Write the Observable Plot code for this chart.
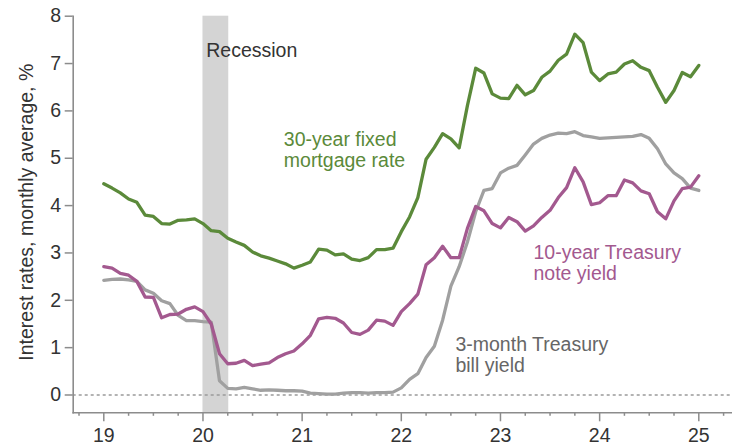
<!DOCTYPE html>
<html>
<head>
<meta charset="utf-8">
<script src="https://cdn.jsdelivr.net/npm/d3@7"></script>
<script src="https://cdn.jsdelivr.net/npm/@observablehq/plot@0.6"></script>
<style>
  html, body { margin: 0; padding: 0; background: #fff; }
</style>
</head>
<body>
<div id="chart"></div>
<script>
// Monthly averages, January 2019 through January 2025
const startYear = 2019;
const mortgage30 = [
  4.46, 4.37, 4.27, 4.14, 4.07, 3.80, 3.77, 3.62, 3.61, 3.69, 3.70, 3.72,
  3.62, 3.47, 3.45, 3.31, 3.23, 3.16, 3.02, 2.94, 2.89, 2.83, 2.77, 2.68,
  2.74, 2.81, 3.08, 3.06, 2.96, 2.98, 2.87, 2.84, 2.90, 3.07, 3.07, 3.10,
  3.45, 3.76, 4.17, 4.98, 5.23, 5.52, 5.41, 5.22, 6.11, 6.90, 6.80, 6.36,
  6.27, 6.26, 6.54, 6.34, 6.43, 6.71, 6.84, 7.07, 7.20, 7.62, 7.44, 6.82,
  6.64, 6.78, 6.82, 6.99, 7.06, 6.92, 6.85, 6.50, 6.18, 6.43, 6.81, 6.72,
  6.96
];
const treasury10y = [
  2.71, 2.68, 2.57, 2.53, 2.40, 2.07, 2.06, 1.63, 1.70, 1.71, 1.81, 1.86,
  1.76, 1.50, 0.87, 0.66, 0.67, 0.73, 0.62, 0.65, 0.68, 0.79, 0.87, 0.93,
  1.08, 1.26, 1.61, 1.64, 1.62, 1.52, 1.32, 1.28, 1.37, 1.58, 1.56, 1.47,
  1.76, 1.93, 2.13, 2.75, 2.90, 3.14, 2.90, 2.90, 3.52, 3.98, 3.89, 3.62,
  3.53, 3.75, 3.66, 3.46, 3.57, 3.75, 3.90, 4.17, 4.38, 4.80, 4.50, 4.02,
  4.06, 4.21, 4.21, 4.54, 4.48, 4.31, 4.25, 3.87, 3.72, 4.10, 4.36, 4.39,
  4.63
];
const treasury3m = [
  2.42, 2.44, 2.45, 2.43, 2.40, 2.22, 2.15, 1.99, 1.93, 1.68, 1.57, 1.57,
  1.55, 1.54, 0.30, 0.14, 0.13, 0.16, 0.13, 0.10, 0.11, 0.10, 0.09, 0.09,
  0.08, 0.04, 0.03, 0.02, 0.02, 0.04, 0.05, 0.05, 0.04, 0.05, 0.05, 0.06,
  0.15, 0.33, 0.45, 0.79, 1.03, 1.58, 2.30, 2.71, 3.23, 3.87, 4.32, 4.36,
  4.69, 4.79, 4.85, 5.07, 5.30, 5.42, 5.49, 5.53, 5.52, 5.56, 5.48, 5.45,
  5.42, 5.43, 5.44, 5.45, 5.46, 5.50, 5.42, 5.20, 4.88, 4.69, 4.57, 4.37,
  4.32
];
const recession = [{start: 2020.0, end: 2020.26}];
const yearTicks = [2019, 2020, 2021, 2022, 2023, 2024, 2025];
const yTicks = [0, 1, 2, 3, 4, 5, 6, 7, 8];
const yTitle = "Interest rates, monthly average, %";
const labels = [
  {text: "Recession", x: 2020.033, y: 7.134, color: "#333333"},
  {text: "30-year fixed\nmortgage rate", x: 2020.815, y: 4.81, color: "#5b8a3a"},
  {text: "10-year Treasury\nnote yield", x: 2023.333, y: 2.42, color: "#a3598f"},
  {text: "3-month Treasury\nbill yield", x: 2022.546, y: 0.48, color: "#666666"}
];

const GREEN = "#5b8a3a", PURPLE = "#a3598f", GREY = "#a0a0a0";
const toRows = arr => arr.map((v, i) => ({x: startYear + i / 12, y: v}));
const quarterTicks = d3.range(2018.75, 2025.26, 0.25).filter(t => Math.abs(t - Math.round(t)) > 1e-6);

const chart = Plot.plot({
  width: 734,
  height: 445,
  marginLeft: 72.7,
  marginRight: 3.3,
  marginTop: 15.7,
  marginBottom: 32.7,
  style: {fontFamily: "'Liberation Sans', Arial, sans-serif", fontSize: "19.5px", background: "#fff", color: "#333"},
  x: {domain: [2018.6914, 2025.3267]},
  y: {domain: [-0.376, 8]},
  color: {type: "identity"},
  marks: [
    Plot.rect(recession, {x1: "start", x2: "end", fill: "#d4d4d4"}),
    Plot.ruleY([0], {stroke: "#9a9a9a", strokeWidth: 1.3, strokeDasharray: "3,3"}),
    Plot.line(toRows(treasury3m), {x: "x", y: "y", stroke: GREY, strokeWidth: 3.3}),
    Plot.line(toRows(treasury10y), {x: "x", y: "y", stroke: PURPLE, strokeWidth: 3.3}),
    Plot.line(toRows(mortgage30), {x: "x", y: "y", stroke: GREEN, strokeWidth: 3.3}),
    Plot.frame({anchor: "left", stroke: "#8c8c8c", strokeWidth: 1.6}),
    Plot.frame({anchor: "bottom", stroke: "#8c8c8c", strokeWidth: 1.6}),
    Plot.axisY(yTicks, {tickSize: 8, tickPadding: 4, stroke: "#8c8c8c", fill: "#333", strokeWidth: 1.5, label: null}),
    Plot.axisX(yearTicks, {tickSize: 9, tickPadding: 6.5, tickFormat: d => String(d).slice(2), stroke: "#8c8c8c", fill: "#333", strokeWidth: 1.5, label: null}),
    Plot.axisX(quarterTicks, {tickSize: 3.5, tickFormat: null, text: null, stroke: "#8c8c8c", strokeWidth: 1.5, label: null}),
    Plot.text([yTitle], {text: d => d, frameAnchor: "left", rotate: -90, dx: -40, dy: -2.3, textAnchor: "middle", lineAnchor: "bottom", fill: "#333"}),
    Plot.text(labels, {x: "x", y: "y", text: "text", fill: "color", textAnchor: "start", lineAnchor: "bottom", lineHeight: 1.113})
  ]
});
document.getElementById("chart").appendChild(chart);
</script>
</body>
</html>
